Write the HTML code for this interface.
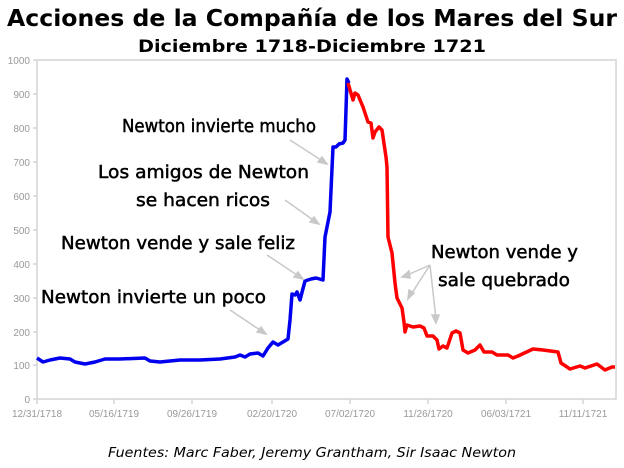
<!DOCTYPE html>
<html><head><meta charset="utf-8"><style>
html,body{margin:0;padding:0;background:#fff}
svg{display:block}
</style></head><body>
<svg width="624" height="468" viewBox="0 0 624 468" xmlns="http://www.w3.org/2000/svg">
<text x="312" y="26" text-anchor="middle" font-family="DejaVu Sans, sans-serif" font-weight="bold" font-size="23" textLength="610" lengthAdjust="spacingAndGlyphs">Acciones de la Compañía de los Mares del Sur</text>
<text x="312" y="52" text-anchor="middle" font-family="DejaVu Sans, sans-serif" font-weight="bold" font-size="17" textLength="348" lengthAdjust="spacingAndGlyphs">Diciembre 1718-Diciembre 1721</text>
<g stroke="#d4d4d4" stroke-width="1.5" fill="none">
<rect x="37" y="60" width="579" height="339"/>
<line x1="33" y1="60" x2="37" y2="60"/><line x1="33" y1="94" x2="37" y2="94"/><line x1="33" y1="128" x2="37" y2="128"/><line x1="33" y1="162" x2="37" y2="162"/><line x1="33" y1="196" x2="37" y2="196"/><line x1="33" y1="230" x2="37" y2="230"/><line x1="33" y1="264" x2="37" y2="264"/><line x1="33" y1="298" x2="37" y2="298"/><line x1="33" y1="332" x2="37" y2="332"/><line x1="33" y1="365" x2="37" y2="365"/><line x1="33" y1="399" x2="37" y2="399"/>
<line x1="37" y1="399" x2="37" y2="404"/><line x1="114" y1="399" x2="114" y2="404"/><line x1="192" y1="399" x2="192" y2="404"/><line x1="272" y1="399" x2="272" y2="404"/><line x1="350" y1="399" x2="350" y2="404"/><line x1="428" y1="399" x2="428" y2="404"/><line x1="506" y1="399" x2="506" y2="404"/><line x1="583" y1="399" x2="583" y2="404"/>
</g>
<g font-family="Liberation Sans, sans-serif" font-size="10" fill="#999" text-anchor="end">
<text x="30" y="64">1000</text><text x="30" y="98">900</text><text x="30" y="132">800</text><text x="30" y="166">700</text><text x="30" y="200">600</text><text x="30" y="234">500</text><text x="30" y="268">400</text><text x="30" y="302">300</text><text x="30" y="336">200</text><text x="30" y="369">100</text><text x="30" y="403">0</text>
</g>
<g font-family="Liberation Sans, sans-serif" font-size="10" fill="#999" text-anchor="middle">
<text x="37" y="417">12/31/1718</text><text x="114" y="417">05/16/1719</text><text x="192" y="417">09/26/1719</text><text x="272" y="417">02/20/1720</text><text x="350" y="417">07/02/1720</text><text x="428" y="417">11/26/1720</text><text x="506" y="417">06/03/1721</text><text x="583" y="417">11/11/1721</text>
</g>
<polyline fill="none" stroke="#0000ee" stroke-width="3.5" stroke-linejoin="round" points="37,358 43,362 50,360 60,358 70,359 75,362 85,364 95,362 105,359 120,359 145,358 150,361 160,362 170,361 180,360 200,360 220,359 235,357 240,355 245,357 250,354 258,353 263,356 268,348 273,342 278,345 283,342 288,339 290,320 292,294 295,295 297,292 300,300 305,281 311,279 316,278 323,280 325,237 330,212 333,147 336,147 339,144 343,143 345,140 347,79 349,83"/>
<polyline fill="none" stroke="#ff0000" stroke-width="3.5" stroke-linejoin="round" points="348,83 353,100 355,93 358,95 363,107 368,122 371,123 373,138 375,132 379,127 382,130 386,157 387,167 388,237 392,253 395,283 397,298 402,308 404,322 405,332 407,325 413,327 420,326 424,328 427,336 433,336 437,340 439,349 443,346 447,348 452,333 456,331 460,333 463,350 468,353 475,350 480,345 484,352 492,352 497,355 508,355 513,358 518,356 533,349 543,350 558,352 561,363 570,369 580,366 585,368 597,364 605,370 612,367 615,367"/>
<g stroke="#c8c8c8" stroke-width="1.5" fill="#c8c8c8">
<line x1="230" y1="310" x2="263" y2="332"/><polygon points="266,334 257,332 261,327"/>
<line x1="267" y1="255" x2="300" y2="277"/><polygon points="303,279 294,277 298,272"/>
<line x1="285" y1="200" x2="316" y2="222"/><polygon points="319,224 310,222 314,217"/>
<line x1="290" y1="140" x2="324" y2="162"/><polygon points="327,164 318,162 322,157"/>
<line x1="430" y1="265" x2="405" y2="276"/><polygon points="402,277 409,271 410,278"/>
<line x1="430" y1="265" x2="410" y2="296"/><polygon points="408,299 409,290 414,293"/>
<line x1="430" y1="265" x2="436" y2="319"/><polygon points="436,323 432,315 439,315"/>
</g>
<g font-family="DejaVu Sans, sans-serif" font-size="18" fill="#000" stroke="#000" stroke-width="0.5">
<text x="122" y="132" textLength="194" lengthAdjust="spacingAndGlyphs">Newton invierte mucho</text>
<text x="98" y="178" textLength="211" lengthAdjust="spacingAndGlyphs">Los amigos de Newton</text>
<text x="136" y="206" textLength="134" lengthAdjust="spacingAndGlyphs">se hacen ricos</text>
<text x="61" y="249" textLength="234" lengthAdjust="spacingAndGlyphs">Newton vende y sale feliz</text>
<text x="41" y="303" textLength="225" lengthAdjust="spacingAndGlyphs">Newton invierte un poco</text>
<text x="431" y="258" textLength="147" lengthAdjust="spacingAndGlyphs">Newton vende y</text>
<text x="438" y="286" textLength="132" lengthAdjust="spacingAndGlyphs">sale quebrado</text>
</g>
<text x="312" y="457" text-anchor="middle" font-family="DejaVu Sans, sans-serif" font-style="italic" font-size="13" textLength="408" lengthAdjust="spacingAndGlyphs">Fuentes: Marc Faber, Jeremy Grantham, Sir Isaac Newton</text>
</svg>
</body></html>
